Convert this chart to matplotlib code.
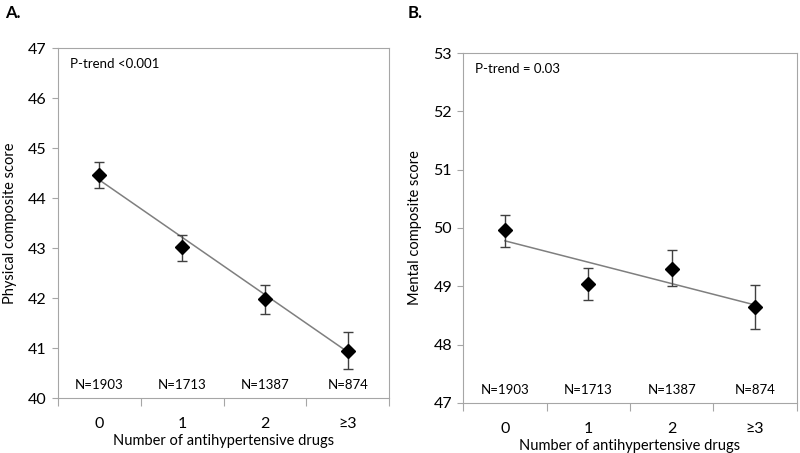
import matplotlib
matplotlib.use('Agg')
import matplotlib.pyplot as plt

plt.rcParams['font.family'] = ['Lato', 'DejaVu Sans']

categories = ['0', '1', '2', '\u22653']
n_labels = ['N=1903', 'N=1713', 'N=1387', 'N=874']

# panel A: physical composite score
phys_mean = [44.47, 43.02, 41.98, 40.95]
phys_low = [44.21, 42.75, 41.69, 40.59]
phys_high = [44.73, 43.27, 42.27, 41.32]
phys_trend = [44.36, 40.92]

# panel B: mental composite score
ment_mean = [49.96, 49.04, 49.30, 48.65]
ment_low = [49.68, 48.76, 49.00, 48.27]
ment_high = [50.23, 49.31, 49.62, 49.02]
ment_trend = [49.78, 48.68]

grey = '#a6a6a6'


def draw_panel(ax, mean, low, high, trend, ylim, ylabel, ptext):
    x = list(range(len(categories)))
    ax.plot([x[0], x[-1]], trend, color='#7f7f7f', lw=1.1, zorder=1)
    yerr = [[m - l for m, l in zip(mean, low)], [h - m for m, h in zip(mean, high)]]
    ax.errorbar(x, mean, yerr=yerr, fmt='D', color='black', ms=7,
                ecolor='#404040', elinewidth=1, capsize=3.5, capthick=1, zorder=3)
    ax.set_xlim(-0.5, 3.5)
    ax.set_ylim(*ylim)
    ax.set_yticks(range(ylim[0], ylim[1] + 1))
    ax.tick_params(axis='y', labelsize=11.5, length=4, color=grey, pad=4)
    # x ticks sit on category boundaries, labels at centres
    ax.set_xticks([-0.5, 0.5, 1.5, 2.5, 3.5])
    ax.set_xticklabels([])
    ax.set_xticks(x, minor=True)
    ax.set_xticklabels(categories, minor=True)
    ax.tick_params(axis='x', which='major', length=6, color=grey)
    ax.tick_params(axis='x', which='minor', length=0, labelsize=11.5, pad=14)
    for s in ax.spines.values():
        s.set_color(grey)
    ax.set_xlabel('Number of antihypertensive drugs', fontsize=10.5, labelpad=2)
    ax.set_ylabel(ylabel, fontsize=10.5, labelpad=8)
    ax.text(0.035, 0.955, ptext, transform=ax.transAxes, fontsize=9.5, va='center')
    for xi, t in zip(x, n_labels):
        ax.text(xi, 0.038, t, transform=ax.get_xaxis_transform(),
                ha='center', va='center', fontsize=9.5)


fig = plt.figure(figsize=(8, 4.53), dpi=100)
axA = fig.add_axes([0.0725, 0.1214, 0.414, 0.7726])
axB = fig.add_axes([0.579, 0.1104, 0.417, 0.7726])

draw_panel(axA, phys_mean, phys_low, phys_high, phys_trend, (40, 47),
           'Physical composite score', 'P-trend <0.001')
draw_panel(axB, ment_mean, ment_low, ment_high, ment_trend, (47, 53),
           'Mental composite score', 'P-trend = 0.03')

fig.text(0.006, 0.972, 'A.', fontsize=12, fontweight='bold', va='center')
fig.text(0.51, 0.972, 'B.', fontsize=12, fontweight='bold', va='center')

fig.savefig('out.png', dpi=100)
